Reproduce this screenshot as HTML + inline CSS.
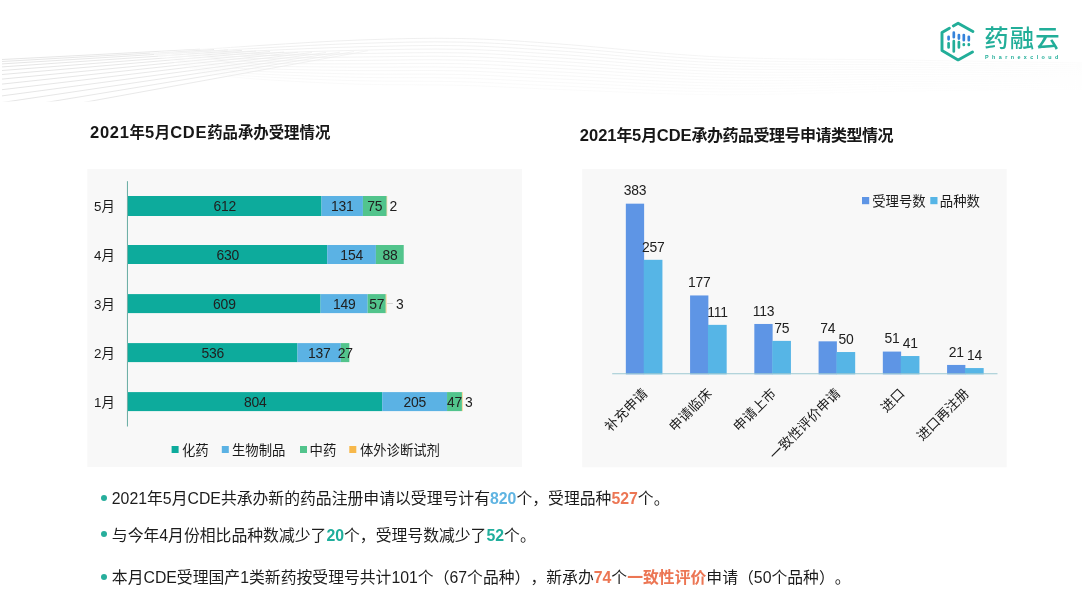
<!DOCTYPE html>
<html lang="zh-CN"><head><meta charset="utf-8"><title>2021年5月CDE药品承办受理情况</title>
<style>
html,body{margin:0;padding:0;background:#fff;}
body{will-change:transform;width:1082px;height:606px;position:relative;overflow:hidden;font-family:"Liberation Sans","Noto Sans CJK SC",sans-serif;color:#222;}
svg{position:absolute;left:0;top:0;}
svg text{font-family:"Liberation Sans","Noto Sans CJK SC",sans-serif;}
.t13{font-size:13.35px;fill:#1a1a1a;}
.n{font-size:13.9px;fill:#202020;letter-spacing:-0.2px;}
.h{position:absolute;font-weight:bold;font-size:15.4px;white-space:nowrap;color:#171717;line-height:20px;}
.h b{font-size:16.5px;letter-spacing:0.7px;}
.h2{font-size:16px;letter-spacing:-0.5px;}
.h2 b{letter-spacing:0;}
.b{position:absolute;left:111.8px;font-size:15.84px;white-space:nowrap;line-height:20px;color:#1c1c1c;text-spacing-trim:space-all;font-kerning:none;font-feature-settings:"halt" 0,"chws" 0,"palt" 0;}
.b i{font-style:normal;font-weight:bold;}
.dot{position:absolute;width:6px;height:6px;border-radius:50%;background:#27AE9C;left:100.5px;}
.bl{color:#5FB4E2;} .or{color:#EC7654;} .tl{color:#1FAE9C;}
.logo-t{position:absolute;left:984.2px;top:22.4px;font-size:24.4px;line-height:34px;color:#22AE99;white-space:nowrap;font-weight:500;letter-spacing:1.1px;}
.logo-s{position:absolute;left:985px;top:53px;font-size:5.4px;line-height:8px;color:#22AE99;white-space:nowrap;font-weight:bold;letter-spacing:3.42px;}
</style></head><body>
<svg width="1082" height="606" viewBox="0 0 1082 606">
<defs><linearGradient id="fa" gradientUnits="userSpaceOnUse" x1="0" y1="0" x2="400" y2="0"><stop offset="0" stop-color="#dedede"/><stop offset="0.55" stop-color="#e6e6e6"/><stop offset="1" stop-color="#f4f4f4"/></linearGradient><linearGradient id="fb" gradientUnits="userSpaceOnUse" x1="150" y1="0" x2="1082" y2="0"><stop offset="0" stop-color="#fff"/><stop offset="0.12" stop-color="#e9e9e9"/><stop offset="0.45" stop-color="#ececec"/><stop offset="0.7" stop-color="#f6f6f6"/><stop offset="1" stop-color="#fafafa"/></linearGradient><clipPath id="wc"><rect x="0" y="0" width="1082" height="101.5"/></clipPath></defs><g id="waves" fill="none" clip-path="url(#wc)"><path d="M2 59.5L200.0 49.2" stroke="url(#fa)" stroke-width="0.8"/><path d="M2 61.5L214.0 49.5" stroke="url(#fa)" stroke-width="0.8"/><path d="M2 63.9L228.0 49.9" stroke="url(#fa)" stroke-width="0.8"/><path d="M2 66.9L242.0 50.4" stroke="url(#fa)" stroke-width="0.8"/><path d="M2 70.5L256.0 51.0" stroke="url(#fa)" stroke-width="0.8"/><path d="M2 74.5L270.0 51.5" stroke="url(#fa)" stroke-width="0.8"/><path d="M2 79.1L284.0 52.0" stroke="url(#fa)" stroke-width="0.8"/><path d="M2 84.1L298.0 52.3" stroke="url(#fa)" stroke-width="0.8"/><path d="M2 89.7L312.0 52.5" stroke="url(#fa)" stroke-width="0.8"/><path d="M2 95.9L326.0 52.5" stroke="url(#fa)" stroke-width="0.8"/><path d="M2 102.5L340.0 52.2" stroke="url(#fa)" stroke-width="0.8"/><path d="M2 109.7L354.0 51.6" stroke="url(#fa)" stroke-width="0.8"/><path d="M2 117.3L368.0 50.7" stroke="url(#fa)" stroke-width="0.8"/><path d="M150.0 53.0C168.3 51.8 225.0 47.7 260.0 45.5C295.0 43.3 326.7 41.2 360.0 40.0C393.3 38.8 426.7 37.8 460.0 38.5C493.3 39.2 516.7 40.9 560.0 44.0C603.3 47.1 663.3 54.3 720.0 57.0C776.7 59.7 839.7 59.0 900.0 60.0C960.3 61.0 1051.7 62.5 1082.0 63.0" stroke="url(#fb)" stroke-width="0.8" stroke-opacity="0.95"/><path d="M154.0 54.5C171.7 53.5 225.7 50.0 260.0 48.1C294.3 46.2 326.7 44.4 360.0 43.4C393.3 42.4 426.7 41.4 460.0 42.1C493.3 42.8 516.7 44.5 560.0 47.5C603.3 50.5 663.3 57.4 720.0 59.9C776.7 62.4 839.7 61.5 900.0 62.4C960.3 63.2 1051.7 64.6 1082.0 65.0" stroke="url(#fb)" stroke-width="0.8" stroke-opacity="0.90"/><path d="M158.0 56.1C175.0 55.2 226.3 52.2 260.0 50.7C293.7 49.2 326.7 47.6 360.0 46.8C393.3 46.0 426.7 45.0 460.0 45.7C493.3 46.4 516.7 48.1 560.0 51.0C603.3 53.9 663.3 60.5 720.0 62.8C776.7 65.1 839.7 64.1 900.0 64.8C960.3 65.5 1051.7 66.6 1082.0 67.0" stroke="url(#fb)" stroke-width="0.8" stroke-opacity="0.85"/><path d="M162.0 57.6C178.3 56.9 227.0 54.5 260.0 53.3C293.0 52.1 326.7 50.9 360.0 50.2C393.3 49.5 426.7 48.6 460.0 49.3C493.3 50.0 516.7 51.8 560.0 54.5C603.3 57.2 663.3 63.6 720.0 65.7C776.7 67.8 839.7 66.7 900.0 67.2C960.3 67.8 1051.7 68.7 1082.0 69.0" stroke="url(#fb)" stroke-width="0.8" stroke-opacity="0.80"/><path d="M166.0 59.2C181.7 58.7 227.7 56.8 260.0 55.9C292.3 55.0 326.7 54.1 360.0 53.6C393.3 53.1 426.7 52.2 460.0 52.9C493.3 53.6 516.7 55.4 560.0 58.0C603.3 60.6 663.3 66.7 720.0 68.6C776.7 70.5 839.7 69.2 900.0 69.6C960.3 70.0 1051.7 70.8 1082.0 71.0" stroke="url(#fb)" stroke-width="0.8" stroke-opacity="0.75"/><path d="M170.0 60.8C185.0 60.4 228.3 59.1 260.0 58.5C291.7 57.9 326.7 57.3 360.0 57.0C393.3 56.7 426.7 55.8 460.0 56.5C493.3 57.2 516.7 59.0 560.0 61.5C603.3 64.0 663.3 69.8 720.0 71.5C776.7 73.2 839.7 71.8 900.0 72.0C960.3 72.2 1051.7 72.8 1082.0 73.0" stroke="url(#fb)" stroke-width="0.8" stroke-opacity="0.70"/><path d="M174.0 62.3C188.3 62.1 229.0 61.4 260.0 61.1C291.0 60.8 326.7 60.6 360.0 60.4C393.3 60.2 426.7 59.3 460.0 60.1C493.3 60.9 516.7 62.6 560.0 65.0C603.3 67.4 663.3 72.8 720.0 74.4C776.7 76.0 839.7 74.3 900.0 74.4C960.3 74.5 1051.7 74.9 1082.0 75.0" stroke="url(#fb)" stroke-width="0.8" stroke-opacity="0.65"/><path d="M178.0 63.9C191.7 63.8 229.7 63.7 260.0 63.7C290.3 63.7 326.7 63.8 360.0 63.8C393.3 63.8 426.7 62.9 460.0 63.7C493.3 64.5 516.7 66.2 560.0 68.5C603.3 70.8 663.3 75.9 720.0 77.3C776.7 78.7 839.7 76.8 900.0 76.8C960.3 76.8 1051.7 77.0 1082.0 77.0" stroke="url(#fb)" stroke-width="0.8" stroke-opacity="0.60"/><path d="M182.0 65.4C195.0 65.6 230.3 66.0 260.0 66.3C289.7 66.6 326.7 67.0 360.0 67.2C393.3 67.4 426.7 66.5 460.0 67.3C493.3 68.1 516.7 69.8 560.0 72.0C603.3 74.2 663.3 79.0 720.0 80.2C776.7 81.4 839.7 79.4 900.0 79.2C960.3 79.0 1051.7 79.0 1082.0 79.0" stroke="url(#fb)" stroke-width="0.8" stroke-opacity="0.55"/><path d="M186.0 67.0C198.3 67.3 231.0 68.3 260.0 68.9C289.0 69.5 326.7 70.3 360.0 70.6C393.3 70.9 426.7 70.1 460.0 70.9C493.3 71.7 516.7 73.5 560.0 75.5C603.3 77.5 663.3 82.1 720.0 83.1C776.7 84.1 839.7 81.9 900.0 81.6C960.3 81.2 1051.7 81.1 1082.0 81.0" stroke="url(#fb)" stroke-width="0.8" stroke-opacity="0.50"/><path d="M190.0 68.5C201.7 69.0 231.7 70.6 260.0 71.5C288.3 72.4 326.7 73.5 360.0 74.0C393.3 74.5 426.7 73.7 460.0 74.5C493.3 75.3 516.7 77.1 560.0 79.0C603.3 80.9 663.3 85.2 720.0 86.0C776.7 86.8 839.7 84.5 900.0 84.0C960.3 83.5 1051.7 83.2 1082.0 83.0" stroke="url(#fb)" stroke-width="0.8" stroke-opacity="0.45"/><path d="M194.0 70.0C205.0 70.7 232.3 72.9 260.0 74.1C287.7 75.3 326.7 76.7 360.0 77.4C393.3 78.1 426.7 77.2 460.0 78.1C493.3 78.9 516.7 80.7 560.0 82.5C603.3 84.3 663.3 88.2 720.0 88.9C776.7 89.6 839.7 87.1 900.0 86.4C960.3 85.8 1051.7 85.2 1082.0 85.0" stroke="url(#fb)" stroke-width="0.8" stroke-opacity="0.40"/><path d="M198.0 71.6C208.3 72.4 233.0 75.2 260.0 76.7C287.0 78.2 326.7 80.0 360.0 80.8C393.3 81.6 426.7 80.8 460.0 81.7C493.3 82.6 516.7 84.3 560.0 86.0C603.3 87.7 663.3 91.3 720.0 91.8C776.7 92.3 839.7 89.6 900.0 88.8C960.3 88.0 1051.7 87.3 1082.0 87.0" stroke="url(#fb)" stroke-width="0.8" stroke-opacity="0.35"/><path d="M202.0 73.2C211.7 74.2 233.7 77.5 260.0 79.3C286.3 81.1 326.7 83.2 360.0 84.2C393.3 85.2 426.7 84.4 460.0 85.3C493.3 86.2 516.7 87.9 560.0 89.5C603.3 91.1 663.3 94.4 720.0 94.7C776.7 95.0 839.7 92.2 900.0 91.2C960.3 90.2 1051.7 89.4 1082.0 89.0" stroke="url(#fb)" stroke-width="0.8" stroke-opacity="0.30"/></g>
<rect x="87.3" y="169" width="434.7" height="298.1" fill="#F8F8F8"/>
<rect x="582.2" y="169" width="424.5" height="298.3" fill="#F8F8F8"/>
<g id="leftchart"><text x="104.4" y="210.9" text-anchor="middle" class="t13">5月</text><rect x="128.00" y="196.0" width="193.51" height="20" fill="#0DAB9C"/><text x="224.86" y="211.20" text-anchor="middle" class="n">612</text><rect x="321.51" y="196.0" width="41.42" height="20" fill="#5BB2E4"/><text x="342.33" y="211.20" text-anchor="middle" class="n">131</text><rect x="362.94" y="196.0" width="23.71" height="20" fill="#52C48C"/><text x="374.89" y="211.20" text-anchor="middle" class="n">75</text><rect x="386.65" y="196.0" width="0.63" height="20" fill="#F7B84B" fill-opacity="0.55"/><text x="393.28" y="211.20" text-anchor="middle" class="n">2</text><text x="104.4" y="259.9" text-anchor="middle" class="t13">4月</text><rect x="128.00" y="245.0" width="199.21" height="19.0" fill="#0DAB9C"/><text x="227.70" y="259.70" text-anchor="middle" class="n">630</text><rect x="327.21" y="245.0" width="48.69" height="19.0" fill="#5BB2E4"/><text x="351.65" y="259.70" text-anchor="middle" class="n">154</text><rect x="375.90" y="245.0" width="27.83" height="19.0" fill="#52C48C"/><text x="389.91" y="259.70" text-anchor="middle" class="n">88</text><text x="104.4" y="308.9" text-anchor="middle" class="t13">3月</text><rect x="128.00" y="294.1" width="192.57" height="19.0" fill="#0DAB9C"/><text x="224.38" y="308.80" text-anchor="middle" class="n">609</text><rect x="320.57" y="294.1" width="47.11" height="19.0" fill="#5BB2E4"/><text x="344.22" y="308.80" text-anchor="middle" class="n">149</text><rect x="367.68" y="294.1" width="18.02" height="19.0" fill="#52C48C"/><text x="376.79" y="308.80" text-anchor="middle" class="n">57</text><rect x="385.70" y="294.1" width="0.95" height="19.0" fill="#F7B84B" fill-opacity="0.55"/><path d="M387.2 303.5H392.9" stroke="#c4c4c4" stroke-width="0.7"/><text x="399.85" y="308.80" text-anchor="middle" class="n">3</text><text x="104.4" y="357.9" text-anchor="middle" class="t13">2月</text><rect x="128.00" y="343.1" width="169.48" height="19.0" fill="#0DAB9C"/><text x="212.84" y="357.80" text-anchor="middle" class="n">536</text><rect x="297.48" y="343.1" width="43.32" height="19.0" fill="#5BB2E4"/><text x="319.24" y="357.80" text-anchor="middle" class="n">137</text><rect x="340.80" y="343.1" width="8.54" height="19.0" fill="#52C48C"/><text x="345.17" y="357.80" text-anchor="middle" class="n">27</text><text x="104.4" y="406.9" text-anchor="middle" class="t13">1月</text><rect x="128.00" y="392.1" width="254.22" height="19.0" fill="#0DAB9C"/><text x="255.21" y="406.80" text-anchor="middle" class="n">804</text><rect x="382.22" y="392.1" width="64.82" height="19.0" fill="#5BB2E4"/><text x="414.74" y="406.80" text-anchor="middle" class="n">205</text><rect x="447.05" y="392.1" width="14.86" height="19.0" fill="#52C48C"/><text x="454.58" y="406.80" text-anchor="middle" class="n">47</text><rect x="461.91" y="392.1" width="0.95" height="19.0" fill="#F7B84B" fill-opacity="0.55"/><text x="468.86" y="406.80" text-anchor="middle" class="n">3</text><path d="M127.45 181.2V426.5" stroke="#4B9D92" stroke-width="0.85"/><rect x="171.6" y="446" width="7" height="7" fill="#0DAB9C"/><text x="182" y="454.5" class="t13">化药</text><rect x="221.8" y="446" width="7" height="7" fill="#5BB2E4"/><text x="232" y="454.5" class="t13">生物制品</text><rect x="300" y="446" width="7" height="7" fill="#52C48C"/><text x="309.6" y="454.5" class="t13">中药</text><rect x="349.3" y="446" width="7" height="7" fill="#F7B84B"/><text x="359.9" y="454.5" class="t13">体外诊断试剂</text></g>
<g id="rightchart"><rect x="625.83" y="203.67" width="18.30" height="170.63" fill="#5E95E5"/><text x="634.98" y="195.37" text-anchor="middle" class="n">383</text><rect x="643.73" y="259.81" width="18.70" height="114.49" fill="#56B5E6"/><text x="653.27" y="251.51" text-anchor="middle" class="n">257</text><text transform="translate(644.92 391.0) rotate(-45)" x="0" y="4.8" text-anchor="end" class="t13">补充申请</text><rect x="690.08" y="295.45" width="18.30" height="78.85" fill="#5E95E5"/><text x="699.23" y="287.15" text-anchor="middle" class="n">177</text><rect x="707.98" y="324.85" width="18.70" height="49.45" fill="#56B5E6"/><text x="717.52" y="316.55" text-anchor="middle" class="n">111</text><text transform="translate(709.17 391.0) rotate(-45)" x="0" y="4.8" text-anchor="end" class="t13">申请临床</text><rect x="754.33" y="323.96" width="18.30" height="50.34" fill="#5E95E5"/><text x="763.48" y="315.66" text-anchor="middle" class="n">113</text><rect x="772.23" y="340.89" width="18.70" height="33.41" fill="#56B5E6"/><text x="781.77" y="332.59" text-anchor="middle" class="n">75</text><text transform="translate(773.42 391.0) rotate(-45)" x="0" y="4.8" text-anchor="end" class="t13">申请上市</text><rect x="818.58" y="341.33" width="18.30" height="32.97" fill="#5E95E5"/><text x="827.73" y="333.03" text-anchor="middle" class="n">74</text><rect x="836.48" y="352.03" width="18.70" height="22.27" fill="#56B5E6"/><text x="846.02" y="343.73" text-anchor="middle" class="n">50</text><text transform="translate(837.67 391.0) rotate(-45)" x="0" y="4.8" text-anchor="end" class="t13">一致性评价申请</text><rect x="882.83" y="351.58" width="18.30" height="22.72" fill="#5E95E5"/><text x="891.98" y="343.28" text-anchor="middle" class="n">51</text><rect x="900.73" y="356.03" width="18.70" height="18.27" fill="#56B5E6"/><text x="910.27" y="347.73" text-anchor="middle" class="n">41</text><text transform="translate(901.92 391.0) rotate(-45)" x="0" y="4.8" text-anchor="end" class="t13">进口</text><rect x="947.08" y="364.94" width="18.30" height="9.36" fill="#5E95E5"/><text x="956.23" y="356.64" text-anchor="middle" class="n">21</text><rect x="964.98" y="368.06" width="18.70" height="6.24" fill="#56B5E6"/><text x="974.52" y="359.76" text-anchor="middle" class="n">14</text><text transform="translate(966.17 391.0) rotate(-45)" x="0" y="4.8" text-anchor="end" class="t13">进口再注册</text><path d="M612.2 373.8H997.5" stroke="#9CC9D2" stroke-width="1.1"/><rect x="862" y="197" width="7.2" height="7.2" fill="#5E95E5"/><text x="872.2" y="206.3" class="t13">受理号数</text><rect x="930.3" y="197" width="7.2" height="7.2" fill="#56B5E6"/><text x="939.8" y="206.3" class="t13">品种数</text></g>
<g id="logo" fill="none" stroke="#22AE99" stroke-width="2.9" stroke-linecap="round" stroke-linejoin="round">
<path d="M949.4 28.2L942.0 32.5V50.6L958.1 59.9L972.5 51.9"/>
<path d="M953.3 25.9L958.1 23.2L972.9 31.6"/>
<g stroke-width="2.7">
<path d="M948.6 36.8V39.3M953.8 32.7V37.2M958.9 35V38.6M963.8 35V40.2M968.8 36.8V40.2" stroke="#3583DB"/>
<path d="M948.6 43.3V47.4M953.8 41.2V51.4M958.9 42V47.4M963.8 44.3V44.9M968.8 44.3V44.9" stroke="#22AE99"/>
</g></g>
</svg>
<div class="logo-t">药融云</div>
<div class="logo-s">Pharnexcloud</div>
<div class="h" style="left:90px;top:122px;"><b>2021</b>年<b>5</b>月<b>CDE</b>药品承办受理情况</div>
<div class="h h2" style="left:579.8px;top:125px;"><b>2021</b>年<b>5</b>月<b>CDE</b>承办药品受理号申请类型情况</div>
<span class="dot" style="top:494.8px"></span>
<div class="b" style="top:489.0px">2021年5月CDE共承办新的药品注册申请以受理号计有<i class="bl">820</i>个，受理品种<i class="or">527</i>个。</div>
<span class="dot" style="top:531.3px"></span>
<div class="b" style="top:526.4px">与今年4月份相比品种数减少了<i class="tl">20</i>个，受理号数减少了<i class="tl">52</i>个。</div>
<span class="dot" style="top:573.6px"></span>
<div class="b" style="top:567.7px">本月CDE受理国产1类新药按受理号共计101个（67个品种），新承办<i class="or">74</i>个<i class="or">一致性评价</i>申请（50个品种）。</div>
</body></html>
